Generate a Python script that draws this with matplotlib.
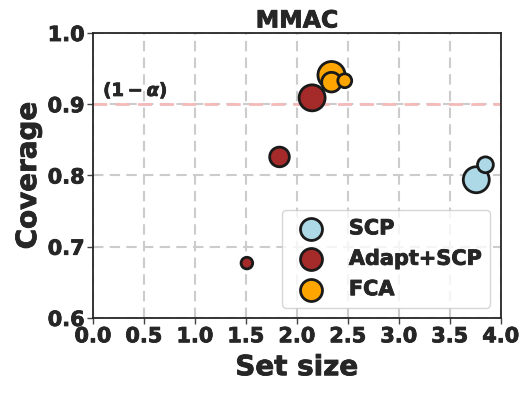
import numpy as np
import matplotlib
matplotlib.use("Agg")
import matplotlib.pyplot as plt
import matplotlib.patheffects as pe

# set size / coverage, marker sizes in pt^2
methods = ["SCP", "Adapt+SCP", "FCA"]
colors = ["#add8e6", "#a52a2a", "#ffa500"]
set_size = {
    "SCP": [3.76, 3.85],
    "Adapt+SCP": [1.51, 1.83, 2.15],
    "FCA": [2.34, 2.34, 2.47],
}
coverage = {
    "SCP": [0.794, 0.815],
    "Adapt+SCP": [0.677, 0.826, 0.909],
    "FCA": [0.941, 0.931, 0.933],
}
sizes = {
    "SCP": [350, 130],
    "Adapt+SCP": [70, 200, 350],
    "FCA": [380, 200, 100],
}
alpha_level = 0.9

plt.rcParams["font.weight"] = "bold"
plt.rcParams["axes.labelweight"] = "bold"
plt.rcParams["mathtext.fontset"] = "dejavusans"

txt = "#262626"
heavy = [pe.withStroke(linewidth=0.6, foreground=txt)]

fig = plt.figure(figsize=(5.31, 3.93), dpi=100)
ax = fig.add_axes([0.175, 0.191, 0.768, 0.725])

ax.axhline(alpha_level, color="#f4baba", linestyle="--", linewidth=2, dashes=(5, 3), zorder=1)
ax.text(0.1, 0.906, r"$\boldsymbol{(1-\alpha)}$", fontsize=13, color=txt, va="bottom",
        path_effects=heavy)

for m, c in zip(methods, colors):
    ax.scatter(set_size[m], coverage[m], s=sizes[m], color=c, edgecolor="#1a1a1a",
               linewidth=2, label=m, zorder=3)

ax.set_xlim(0, 4)
ax.set_ylim(0.6, 1.0)
ax.set_xticks(np.arange(0, 4.01, 0.5))
ax.set_yticks(np.arange(0.6, 1.01, 0.1))
ax.grid(True, color="#cccccc", linestyle="--", linewidth=1.5, dashes=(5, 3), zorder=0)
ax.set_axisbelow(True)
ax.tick_params(labelsize=15, length=4, width=1, color="#444444", pad=2)
for lab in ax.get_xticklabels() + ax.get_yticklabels():
    lab.set_fontweight("bold")
    lab.set_color(txt)
    lab.set_path_effects(heavy)
for sp in ax.spines.values():
    sp.set_color(txt)
    sp.set_linewidth(1.3)

ax.set_xlabel("Set size", fontsize=20, color=txt, labelpad=5, path_effects=heavy)
ax.set_ylabel("Coverage", fontsize=20, color=txt, labelpad=4, path_effects=heavy)
ax.set_title("MMAC", fontsize=17, fontweight="bold", color=txt, pad=4, path_effects=heavy)

leg = ax.legend(loc="lower right", fontsize=15, frameon=True)
for h in leg.legend_handles:
    h.set_sizes([250])
for t in leg.get_texts():
    t.set_fontweight("bold")
    t.set_color(txt)
    t.set_path_effects(heavy)

fig.savefig("out.png", dpi=100)
